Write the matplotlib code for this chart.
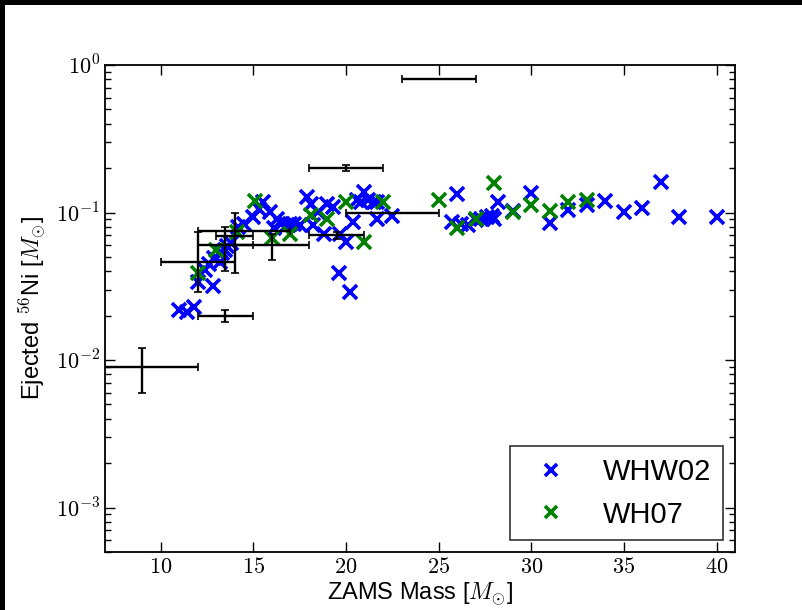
import matplotlib
matplotlib.use('Agg')
import matplotlib.pyplot as plt
import numpy as np
from matplotlib.patches import Rectangle
from matplotlib.ticker import FixedLocator, FuncFormatter, LogLocator, NullFormatter

plt.rcParams['font.family'] = ['Liberation Sans', 'DejaVu Sans']
plt.rcParams['mathtext.fontset'] = 'cm'

# WHW02 models: ZAMS mass, ejected 56Ni
whw02_mass = [11.0, 11.4, 11.8, 12.0, 12.8, 12.4, 12.6, 12.9, 13.2, 13.3, 13.5, 13.6, 13.8,
              14.2, 14.5, 15.0, 15.3, 15.5, 15.9, 16.1, 16.3, 16.5, 16.8, 17.0, 17.2, 17.5,
              17.9, 18.1, 18.2, 18.5, 18.8, 19.0, 19.3, 19.6, 19.7, 20.0, 20.2, 20.4, 20.6,
              20.8, 21.0, 21.2, 21.5, 21.7, 21.7, 22.5, 25.7, 26.0, 26.2, 26.6, 27.0, 27.3,
              27.6, 27.9, 28.0, 28.2, 29.0, 30.0, 31.0, 32.0, 33.0, 34.0, 35.0, 36.0, 37.0,
              38.0, 40.0]
whw02_ni = [0.022, 0.021, 0.023, 0.034, 0.032, 0.041, 0.045, 0.049, 0.046, 0.053, 0.056, 0.059,
            0.062, 0.080, 0.084, 0.093, 0.105, 0.118, 0.101, 0.078, 0.091, 0.084, 0.082, 0.084,
            0.084, 0.082, 0.128, 0.115, 0.082, 0.101, 0.072, 0.115, 0.109, 0.039, 0.072, 0.063,
            0.029, 0.086, 0.121, 0.118, 0.138, 0.121, 0.118, 0.118, 0.091, 0.094, 0.086, 0.133,
            0.084, 0.082, 0.089, 0.091, 0.093, 0.094, 0.091, 0.118, 0.103, 0.136, 0.085, 0.104,
            0.112, 0.120, 0.101, 0.108, 0.161, 0.093, 0.093]

# WH07 models
wh07_mass = [12.0, 13.0, 14.1, 15.1, 16.0, 17.0, 18.1, 19.0, 20.0, 21.0, 22.0, 25.0, 26.0,
             27.0, 28.0, 29.0, 30.0, 31.0, 32.0, 33.0]
wh07_ni = [0.039, 0.056, 0.074, 0.120, 0.067, 0.072, 0.096, 0.090, 0.118, 0.063, 0.118, 0.121,
           0.078, 0.091, 0.159, 0.101, 0.112, 0.103, 0.118, 0.122]

# observed supernovae with mass / nickel estimates
obs_mass = [9.0, 13.5, 12.0, 14.0, 13.5, 16.0, 14.5, 20.0, 19.5, 22.5, 25.0]
obs_mass_lo = [3.0, 1.5, 2.0, 1.0, 1.5, 2.0, 2.5, 2.0, 1.5, 2.5, 2.0]
obs_mass_hi = [3.0, 1.5, 2.0, 1.0, 1.5, 2.0, 2.5, 2.0, 1.5, 2.5, 2.0]
obs_ni = [0.009, 0.020, 0.046, 0.069, 0.060, 0.060, 0.075, 0.20, 0.070, 0.10, 0.80]
obs_ni_lo = [0.003, 0.002, 0.017, 0.030, 0.020, 0.012, 0.0, 0.01, 0.004, 0.0, 0.0]
obs_ni_hi = [0.003, 0.002, 0.028, 0.030, 0.020, 0.012, 0.0, 0.01, 0.004, 0.0, 0.0]

x_ticks = [10, 15, 20, 25, 30, 35, 40]

fig = plt.figure(figsize=(8.03, 6.10), dpi=100, facecolor='black')
fig.patches.append(Rectangle((5 / 803., 0), 1, 1 - 5 / 610., transform=fig.transFigure,
                             facecolor='white', edgecolor='none', zorder=-10))
ax = fig.add_axes([0.1308, 0.0951, 0.7846, 0.7984])

ax.plot(whw02_mass, whw02_ni, 'x', color='b', ms=10.5, mew=2.6, label='WHW02')
ax.plot(wh07_mass, wh07_ni, 'x', color='g', ms=10.5, mew=2.6, label='WH07')
ax.errorbar(obs_mass, obs_ni, xerr=[obs_mass_lo, obs_mass_hi], yerr=[obs_ni_lo, obs_ni_hi],
            fmt='none', ecolor='black', elinewidth=1.7, capsize=2.8, capthick=1.2, zorder=5)

ax.set_yscale('log')
ax.set_xlim(7, 41)
ax.set_ylim(5e-4, 1)

ax.xaxis.set_major_locator(FixedLocator(x_ticks))
ax.xaxis.set_major_formatter(FuncFormatter(lambda v, p: '$%d$' % v))
ax.yaxis.set_major_locator(LogLocator(base=10))
ax.yaxis.set_major_formatter(FuncFormatter(lambda v, p: '$10^{%d}$' % int(round(np.log10(v)))))
ax.yaxis.set_minor_locator(LogLocator(base=10, subs=np.arange(2, 10)))
ax.yaxis.set_minor_formatter(NullFormatter())

ax.tick_params(which='both', direction='in', top=True, right=True, labelsize=16, width=1)
ax.tick_params(which='major', length=7)
ax.tick_params(which='minor', length=4)
for s in ax.spines.values():
    s.set_linewidth(1.3)

ax.set_xlabel(r'ZAMS Mass [$M_{\odot}$]', fontsize=17, labelpad=2)
ax.set_ylabel(r'Ejected $^{56}$Ni [$M_{\odot}$]', fontsize=17, labelpad=6)

leg = ax.legend(loc='lower right', numpoints=1, fontsize=21, markerscale=0.85,
                fancybox=False, borderaxespad=0.4)
leg.get_frame().set_edgecolor('black')
leg.get_frame().set_linewidth(1.2)

fig.savefig('out.png', dpi=100, facecolor=fig.get_facecolor())
